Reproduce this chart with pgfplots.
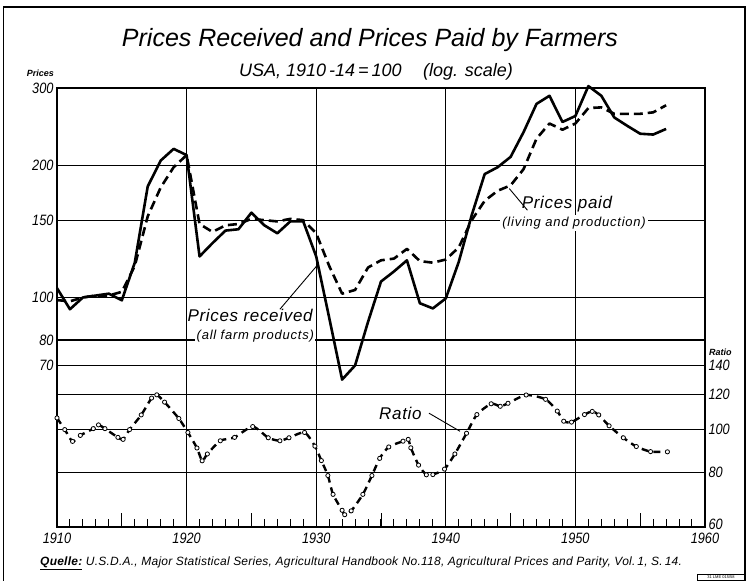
\documentclass[border=0pt]{standalone}
\usepackage{fontspec}
\setmainfont{Liberation Sans}
\newfontfamily\tickfont[FakeStretch=0.85]{Liberation Sans}
\usepackage{pgfplots}
\usepackage{pgfplotstable}
\pgfplotsset{compat=1.18}

\pgfplotstableread{
year rec paid
1910 105 98.6
1911 94 98
1912 100 100
1913 101 101
1914 102 101
1915 98.5 103
1916 120 118
1917 179 153
1918 205 178
1919 218 198
1920 211 211
1921 124 147
1922 133 141
1923 142 146
1924 143 147
1925 156 151
1926 146 150
1927 140 149
1928 149 151
1929 149 150
1930 124 140
1931 90 118
1932 65 102
1933 70 104
1934 88 117
1935 108.7 121.5
1936 114.6 122.6
1937 121.5 129
1938 97 121
1939 94.4 120
1940 99.5 122
1941 120.5 130
1942 154 150
1943 191 166
1944 198 175
1945 209 180
1946 238 196
1947 276 230
1948 288 249
1949 251 241
1950 259 249
1951 303 270
1952 288 271
1953 257 262
1954 246 262
1955 236 262
1956 235 264
1957 242 274
}\prices

\pgfplotstableread{
year r
1910.0 106.3
1910.6 100
1911.2 94
1911.8 97
1912.8 100.5
1913.2 102.5
1913.7 100.5
1914.7 96
1915.1 95
1915.6 100
1916.5 108
1917.3 118
1917.7 120
1918.3 115.5
1919.4 106
1920.1 98.5
1920.8 90.8
1921.2 84.9
1921.6 88
1922.6 94.3
1923.7 96
1925.1 101.6
1926.3 95.8
1927.2 94.3
1927.9 95.8
1929.1 98.5
1929.9 91.7
1930.4 85
1930.9 78.6
1931.3 71.2
1932.0 65.5
1932.2 64
1932.7 65.3
1933.6 71.2
1934.3 78.6
1934.9 86
1935.6 91.3
1936.7 94.1
1937.1 95
1937.3 90.9
1937.9 83
1938.5 78.9
1939.0 79
1939.9 81.3
1940.7 88
1941.6 98.1
1942.4 108.2
1943.5 114.5
1944.2 113
1944.8 114.8
1946.2 119.9
1947.7 117.2
1948.6 110.2
1949.1 104.5
1949.7 104
1950.7 108.2
1951.3 110
1951.8 108
1952.6 102
1953.7 95.8
1954.7 91.5
1955.8 89.1
1957.1 89
}\ratio

\newcommand{\biglab}{\itshape\fontsize{17}{18}\selectfont\addfontfeature{LetterSpace=4}}
\newcommand{\smalllab}{\itshape\fontsize{13}{14}\selectfont\addfontfeature{LetterSpace=6}}

\begin{document}
\begin{tikzpicture}
\useasboundingbox (0pt,0pt) rectangle (747pt,581pt);
% outer frame
\draw[line width=1.2pt] (3.5pt,0pt) -- (3.5pt,574pt) -- (745pt,574pt) -- (745pt,0pt);

% titles
\node[font=\itshape\fontsize{25}{27}\selectfont] at (370pt,541pt) {Prices Received and Prices Paid by Farmers};
\node[font=\itshape\fontsize{18}{20}\selectfont] at (376pt,509pt) {USA, 1910\,-14\,=\,100\hspace{1.2em}(log. scale)};
\node[font=\itshape\bfseries\fontsize{9}{10}\selectfont, anchor=east, inner sep=0pt] at (54pt,508pt) {Prices};

\begin{axis}[
  at={(57pt,54pt)}, anchor=south west, scale only axis,
  width=648pt, height=439pt,
  xmin=1910, xmax=1960,
  ymode=log, ymin=30, ymax=300,
  axis line style={line width=1.4pt},
  xtick={1910,1920,1930,1940,1950,1960},
  xticklabels={1910,1920,1930,1940,1950,1960},
  minor xtick={1911,...,1959},
  extra x ticks={1915,1925,1935,1945,1955},
  extra x tick labels={},
  extra x tick style={grid=none, major tick length=14pt, tick style={line width=1pt, black}},
  xtick pos=left,
  tick align=inside,
  major tick length=0pt,
  minor tick length=8pt,
  minor tick style={line width=1pt, black},
  xmajorgrids, ymajorgrids,
  major grid style={line width=1.1pt, black},
  ytick={70,80,100,150,200,300},
  yticklabels={70,80,100,150,200,300},
  extra y ticks={40,50,60},
  extra y tick labels={},
  extra y tick style={grid=major},
  ytick pos=left,
  /pgf/number format/assume math mode=true,
  ticklabel style={font=\tickfont\itshape\fontsize{15}{16}\selectfont},
  xticklabel style={yshift=-3pt},
  clip=false,
]
% labels with white background (under curves)
\node[font=\biglab, fill=white, inner sep=1pt] at (axis cs:1924.9,91) {Prices received};
\node[font=\smalllab, fill=white, inner sep=1.5pt] at (axis cs:1925.3,81.8) {(all farm products)};
\node[font=\biglab, inner sep=1pt] at (axis cs:1949.35,163.5) {Prices paid};
\node[font=\smalllab, fill=white, inner sep=2pt] at (axis cs:1949.9,147.5) {(living and production)};
\draw[line width=0.9pt] (axis cs:1927.2,94) -- (axis cs:1930,117.6);
\draw[line width=0.9pt] (axis cs:1946.3,158) -- (axis cs:1944.9,177);

\addplot[black, line width=2.6pt, line join=round, dash pattern=on 9pt off 5pt] table[x=year, y=paid] {\prices};
\addplot[black, line width=2.6pt, line join=round, solid] table[x=year, y=rec] {\prices};
\end{axis}

\begin{axis}[
  at={(57pt,54pt)}, anchor=south west, scale only axis,
  width=648pt, height=439pt,
  xmin=1910, xmax=1960,
  ymode=log, ymin=60, ymax=600,
  axis y line*=right, axis x line=none,
  axis line style={line width=1.4pt},
  ytick={60,80,100,120,140},
  yticklabels={\raisebox{6pt}{60},80,100,120,140},
  major tick length=0pt,
  /pgf/number format/assume math mode=true,
  ticklabel style={font=\tickfont\itshape\fontsize{15}{16}\selectfont},
  clip=false,
]
\node[font=\biglab] at (axis cs:1936.5,109) {Ratio};
\draw[line width=0.9pt] (axis cs:1938.7,109) -- (axis cs:1941.1,99.1);
\addplot[black, line width=2.4pt, dash pattern=on 7pt off 5pt, smooth, tension=0.4,
  mark=*, mark size=2.1pt, mark options={solid, fill=white, draw=black, line width=0.8pt}]
  table[x=year, y=r] {\ratio};
\end{axis}

\node[font=\itshape\bfseries\fontsize{9}{10}\selectfont, anchor=west, inner sep=0pt] at (709pt,229pt) {Ratio};

% footer
\node[font=\itshape\fontsize{12}{13}\selectfont\addfontfeature{LetterSpace=2}, anchor=west, inner sep=0pt] at (40pt,18pt) {\textbf{\underline{Quelle:}} U.S.D.A., Major Statistical Series, Agricultural Handbook No.118, Agricultural Prices and Parity, Vol.\,1, S.\,14.};
\draw[line width=0.6pt] (697pt,1pt) rectangle (745pt,7pt);
\node[font=\fontsize{4}{4}\selectfont, inner sep=0pt] at (721pt,4pt) {31 LME 015/58};
\end{tikzpicture}
\end{document}
